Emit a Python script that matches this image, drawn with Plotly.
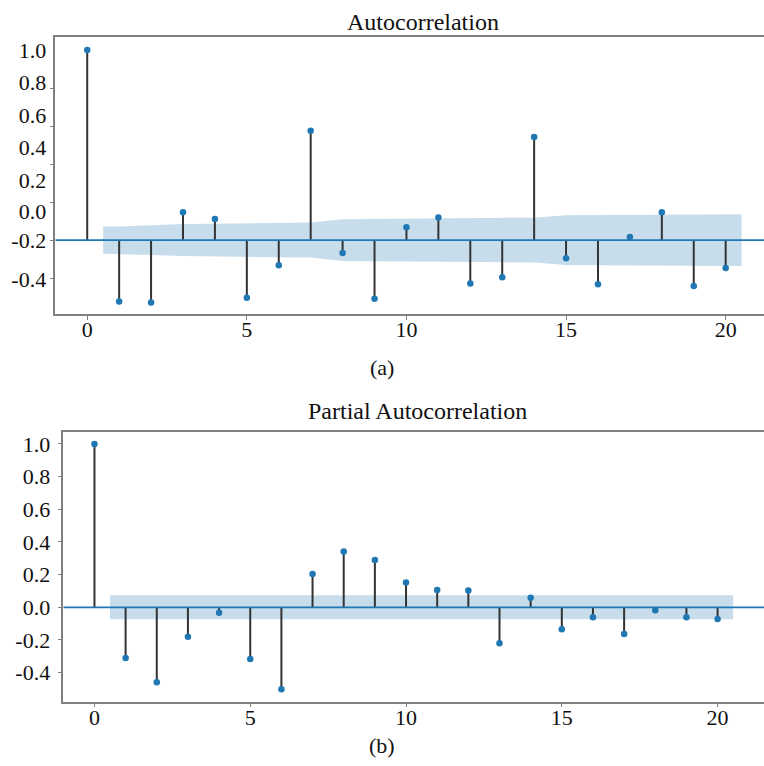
import plotly.graph_objects as go

lags = list(range(21))

acf_values = [1.0, -0.323, -0.328, 0.147, 0.111, -0.304, -0.132, 0.575, -0.068, -0.309,
              0.068, 0.119, -0.228, -0.195, 0.542, -0.096, -0.233, 0.016, 0.147, -0.242, -0.147]
# half-width of the confidence band, lags 1..20
acf_band = [0.072, 0.078, 0.084, 0.086, 0.087, 0.090, 0.092, 0.110, 0.111, 0.113,
            0.113, 0.115, 0.117, 0.118, 0.131, 0.132, 0.134, 0.134, 0.135, 0.136]

pacf_values = [1.0, -0.310, -0.459, -0.180, -0.033, -0.316, -0.502, 0.204, 0.341, 0.290,
               0.151, 0.106, 0.102, -0.220, 0.059, -0.135, -0.061, -0.163, -0.018, -0.061, -0.071]
pacf_band = [0.073] * 20

# tick labels as printed on the two y axes
acf_tick_text = ["1.0", "0.8", "0.6", "0.4", "0.2", "0.0", "-0.2", "-0.4"]
acf_tick_vals = [1.0, 0.828, 0.658, 0.486, 0.316, 0.152, 0.0, -0.205]
acf_minor_ticks = [0.8, 0.6, 0.4, 0.2, 0.0, -0.2]
pacf_tick_vals = [1.0, 0.8, 0.6, 0.4, 0.2, 0.0, -0.2, -0.4]
pacf_tick_text = ["1.0", "0.8", "0.6", "0.4", "0.2", "0.0", "-0.2", "-0.4"]
x_tick_vals = [0, 5, 10, 15, 20]

BLUE = "#1f77b4"
STEM = "#333333"
SPINE = "#808080"
FONT = "Liberation Serif, Times New Roman, serif"

fig = go.Figure()


def add_panel(values, band, xa, ya):
    bx = [0.5] + lags[1:] + [lags[-1] + 0.5]
    upper = [band[0]] + list(band) + [band[-1]]
    lower = [-b for b in upper]
    fig.add_trace(go.Scatter(x=bx + bx[::-1], y=upper + lower[::-1], fill="toself",
                             fillcolor="rgba(31,119,180,0.25)", line=dict(width=0),
                             mode="lines", hoverinfo="skip", showlegend=False,
                             xaxis=xa, yaxis=ya))
    sx, sy = [], []
    for l, v in zip(lags, values):
        sx += [l, l, None]
        sy += [0, v, None]
    fig.add_trace(go.Scatter(x=sx, y=sy, mode="lines", line=dict(color=STEM, width=2),
                             showlegend=False, xaxis=xa, yaxis=ya))
    fig.add_trace(go.Scatter(x=[-1, 25], y=[0, 0], mode="lines",
                             line=dict(color=BLUE, width=1.8), showlegend=False,
                             xaxis=xa, yaxis=ya))
    fig.add_trace(go.Scatter(x=lags, y=values, mode="markers",
                             marker=dict(color=BLUE, size=6.5), showlegend=False,
                             xaxis=xa, yaxis=ya))


add_panel(acf_values, acf_band, "x", "y")
add_panel(pacf_values, pacf_band, "x2", "y2")

H = 766.0
W = 764.0
tickfont = dict(family=FONT, size=22, color="#111111")

xcommon = dict(showgrid=False, zeroline=False, showline=True, mirror=True,
               linecolor=SPINE, linewidth=1.5, ticks="outside", ticklen=4,
               tickcolor=SPINE, tickwidth=1, tickvals=x_tick_vals, tickfont=tickfont,
               ticklabelstandoff=-9)
ycommon = dict(showgrid=False, zeroline=False, showline=True, mirror=False,
               linecolor=SPINE, linewidth=1.5, tickfont=tickfont, ticklabelstandoff=3)

ann_font = dict(family=FONT, size=24, color="#111111")
sub_font = dict(family=FONT, size=22, color="#111111")

# the axes run past the right edge of the picture, as in the original crop
FIG_W = 790
fig.update_layout(
    width=FIG_W, height=766,
    margin=dict(l=0, r=0, t=0, b=0),
    paper_bgcolor="white", plot_bgcolor="white",
    xaxis=dict(domain=[55.3 / FIG_W, 1.0], range=[-1.0, 21.2 + 26 / 31.9], anchor="y", **xcommon),
    yaxis=dict(domain=[1 - 314 / H, 1 - 36.7 / H], range=[-0.389, 1.07], anchor="x",
               tickvals=acf_tick_vals, ticktext=acf_tick_text, ticks="",
               minor=dict(tickmode="array", tickvals=acf_minor_ticks, ticks="outside",
                          ticklen=4, tickcolor=SPINE, tickwidth=1),
               **ycommon),
    xaxis2=dict(domain=[63.3 / FIG_W, 1.0], range=[-1.0, 21.49 + 26 / 31.17], anchor="y2", **xcommon),
    yaxis2=dict(domain=[1 - 701.7 / H, 1 - 432 / H], range=[-0.578, 1.073], anchor="x2",
                tickvals=pacf_tick_vals, ticktext=pacf_tick_text, ticks="outside",
                ticklen=4, tickcolor=SPINE, tickwidth=1, **ycommon),
    annotations=[
        dict(text="Autocorrelation", x=423 / FIG_W, y=1 - 22 / H, xref="paper", yref="paper",
             xanchor="center", yanchor="middle", showarrow=False, font=ann_font),
        dict(text="Partial Autocorrelation", x=417 / FIG_W, y=1 - 411 / H, xref="paper",
             yref="paper", xanchor="center", yanchor="middle", showarrow=False, font=ann_font),
        dict(text="(a)", x=382 / FIG_W, y=1 - 367 / H, xref="paper", yref="paper",
             xanchor="center", yanchor="middle", showarrow=False, font=sub_font),
        dict(text="(b)", x=382 / FIG_W, y=1 - 745 / H, xref="paper", yref="paper",
             xanchor="center", yanchor="middle", showarrow=False, font=sub_font),
    ],
)

fig.write_html("out.html", config={"displayModeBar": False, "responsive": False},
               post_script="document.body.style.margin='0';document.body.style.overflow='hidden';")
